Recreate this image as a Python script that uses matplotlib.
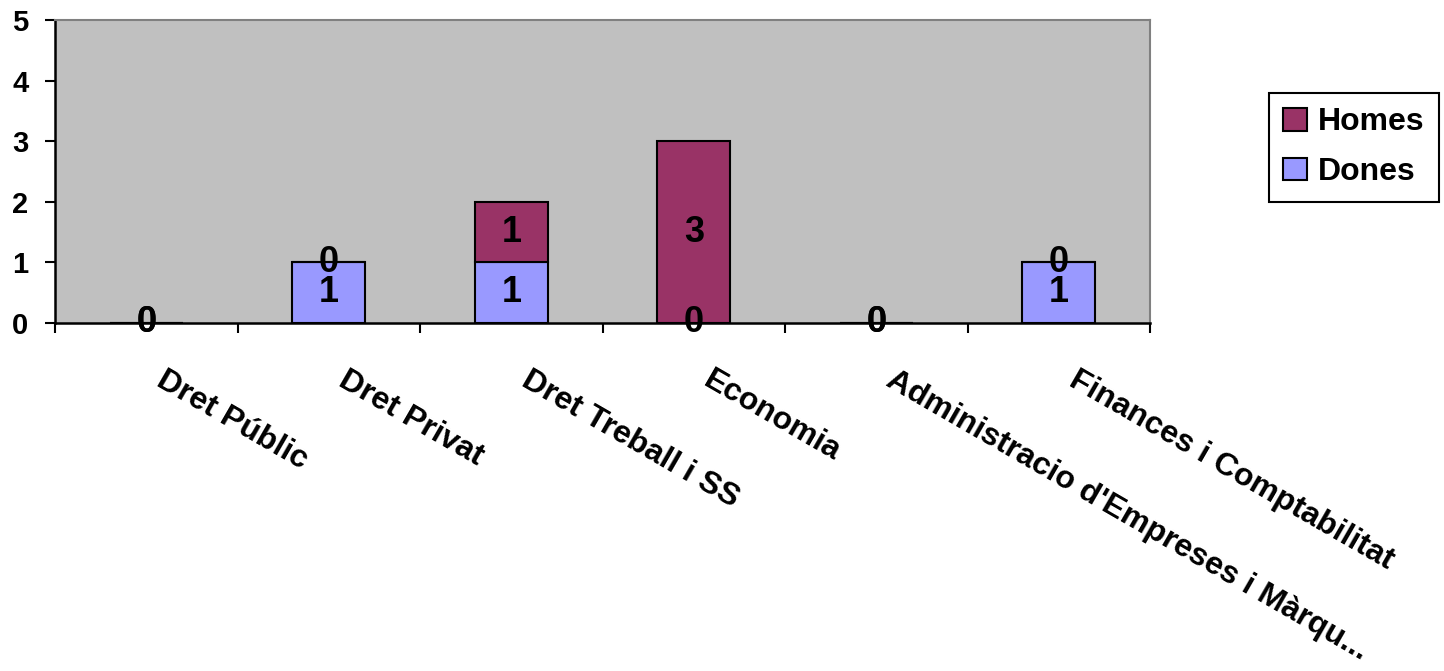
import matplotlib
matplotlib.use("Agg")
import matplotlib.pyplot as plt
import matplotlib.transforms as mtransforms
from matplotlib.patches import Patch
import numpy as np

categories = ["Dret Públic", "Dret Privat", "Dret Treball i SS", "Economia",
              "Administracio d'Empreses i Màrqu...", "Finances i Comptabilitat"]
dones = [0, 1, 1, 0, 0, 1]
homes = [0, 0, 1, 3, 0, 0]
yticks = [0, 1, 2, 3, 4, 5]

c_homes = "#993366"
c_dones = "#9999FF"
bg = "#C0C0C0"

plt.rcParams['font.family'] = ['Liberation Sans', 'DejaVu Sans']
plt.rcParams['font.weight'] = 'bold'

fig = plt.figure(figsize=(14.44, 6.71), dpi=100)
ax = fig.add_axes([55/1444, 1 - 323/671, (1150 - 55)/1444, (323 - 20)/671])
ax.set_facecolor(bg)

x = np.arange(len(categories))
b1 = ax.bar(x, dones, width=0.4, color=c_dones, edgecolor="black", linewidth=1.5, zorder=2)
b2 = ax.bar(x, homes, width=0.4, bottom=dones, color=c_homes, edgecolor="black", linewidth=1.5, zorder=2)

ax.bar_label(b1, labels=[f"{v:g}" for v in dones], label_type='center', fontsize=26,
             fontweight='bold', color='black', zorder=3)
ax.bar_label(b2, labels=[f"{v:g}" for v in homes], label_type='center', fontsize=26,
             fontweight='bold', color='black', zorder=3)

ax.set_xlim(-0.5, len(categories) - 0.5)
ax.set_ylim(0, 5)
ax.set_yticks(yticks)
ax.set_yticklabels([str(t) for t in yticks], fontsize=21, fontweight='bold')
ax.tick_params(axis='y', direction='out', length=7.2, width=1.5, pad=12)

ax.set_xticks(x)
ax.set_xticklabels([])
ax.tick_params(axis='x', which='major', length=0)
ax.set_xticks(np.arange(len(categories) + 1) - 0.5, minor=True)
ax.tick_params(axis='x', which='minor', direction='out', length=7.2, width=1.5)

for s in ['left', 'bottom']:
    ax.spines[s].set_color('black')
    ax.spines[s].set_linewidth(1.8)
for s in ['top', 'right']:
    ax.spines[s].set_color('#808080')
    ax.spines[s].set_linewidth(1.5)

trans = mtransforms.blended_transform_factory(ax.transData, ax.transAxes) + \
    mtransforms.ScaledTranslation(20/100, -42/100, fig.dpi_scale_trans)
for i, lab in enumerate(categories):
    ax.text(i, 0, lab, transform=trans, rotation=-30, rotation_mode='anchor',
            ha='left', va='top', fontsize=23, fontweight='bold', clip_on=False)

handles = [Patch(facecolor=c_homes, edgecolor='black', linewidth=1.5),
           Patch(facecolor=c_dones, edgecolor='black', linewidth=1.5)]
leg = fig.legend(handles, ["Homes", "Dones"], loc='upper left',
                 bbox_to_anchor=(1269/1444, 1 - 93/671), bbox_transform=fig.transFigure,
                 prop={'weight': 'bold', 'size': 23},
                 handlelength=0.75, handleheight=0.72, handletextpad=0.34,
                 labelspacing=0.62, borderpad=0.45, borderaxespad=0,
                 fancybox=False, shadow=False, framealpha=1)
leg.get_frame().set_edgecolor('black')
leg.get_frame().set_linewidth(1.5)

fig.savefig("out.png", dpi=100)
